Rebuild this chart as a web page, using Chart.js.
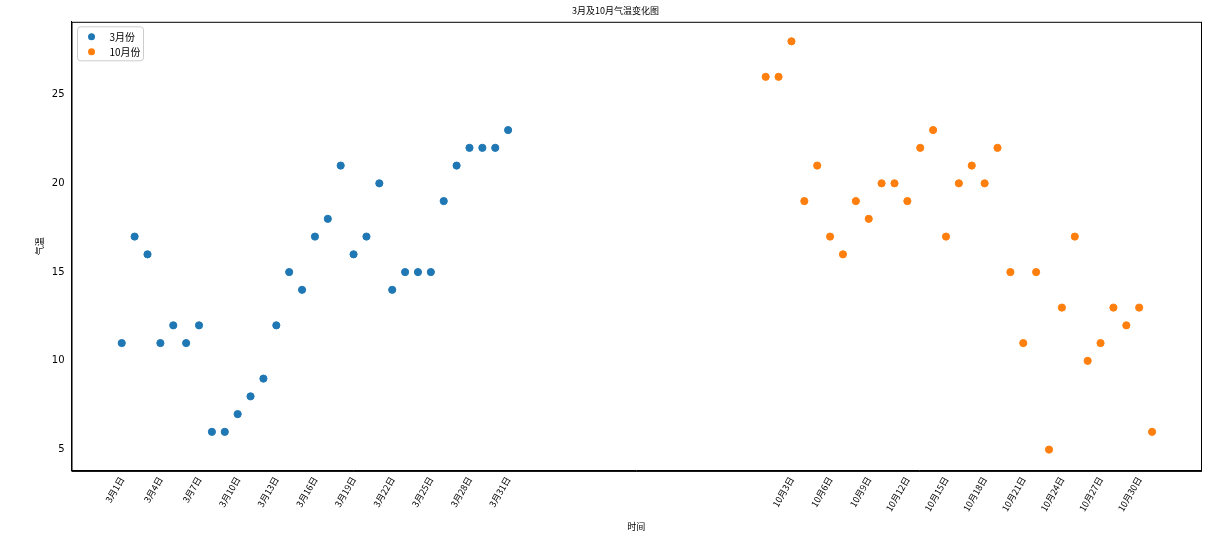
<!DOCTYPE html>
<html><head><meta charset="utf-8">
<script src="https://cdn.jsdelivr.net/npm/chart.js@4/dist/chart.umd.min.js"></script>
<style>body{margin:0;background:#fff}#wrap{width:1212px;height:534px}</style>
</head><body><div id="wrap"><canvas id="c"></canvas></div>
<script>
const marchX = Array.from({ length: 31 }, (_, i) => i + 1);
const octX = Array.from({ length: 31 }, (_, i) => i + 51);
const marchTemps = [11,17,16,11,12,11,12,6,6,7,8,9,12,15,14,17,18,21,16,17,20,14,15,15,15,19,21,22,22,22,23];
const octTemps = [26,26,28,19,21,17,16,19,18,20,20,19,22,23,17,20,21,20,22,15,11,15,5,13,17,10,11,13,12,13,6];
const allX = marchX.concat(octX);
const tickX = allX.filter((_, i) => i % 3 === 0);
const tickLabel = (v) => v <= 31 ? `3月${v}日` : `10月${v - 50}日`;
const font = "'Noto Sans CJK SC', 'DejaVu Sans', sans-serif";

// legend inside the plot area plus the full frame
const innerLegend = {
  id: "innerLegend",
  afterDraw(chart) {
    const { ctx, chartArea } = chart;
    ctx.save();
    ctx.strokeStyle = "#000";
    ctx.lineWidth = 1;
    ctx.strokeRect(chartArea.left + 0.5, chartArea.top + 0.5, chartArea.width, chartArea.height);
    const x = chartArea.left + 6, y = chartArea.top + 5;
    ctx.fillStyle = "#fff";
    ctx.strokeStyle = "#ccc";
    ctx.beginPath();
    ctx.roundRect(x, y, 66, 34, 3);
    ctx.fill(); ctx.stroke();
    ctx.font = "10px " + font;
    ctx.textBaseline = "middle";
    chart.data.datasets.forEach((ds, i) => {
      const cy = y + 10 + i * 15;
      ctx.fillStyle = ds.backgroundColor;
      ctx.beginPath(); ctx.arc(x + 14, cy, 3.5, 0, Math.PI * 2); ctx.fill();
      ctx.fillStyle = "#000";
      ctx.fillText(ds.label, x + 32, cy);
    });
    ctx.restore();
  },
};

new Chart(document.getElementById("c"), {
  type: "scatter",
  data: {
    datasets: [
      { label: "3月份", data: marchX.map((x, i) => ({ x, y: marchTemps[i] })), backgroundColor: "#1f77b4", borderColor: "#1f77b4", pointRadius: 3.6, pointHoverRadius: 3.6 },
      { label: "10月份", data: octX.map((x, i) => ({ x, y: octTemps[i] })), backgroundColor: "#ff7f0e", borderColor: "#ff7f0e", pointRadius: 3.6, pointHoverRadius: 3.6 },
    ],
  },
  options: {
    responsive: true,
    maintainAspectRatio: false,
    animation: false,
    layout: { padding: { left: 30, right: 11, top: 0, bottom: 2 } },
    plugins: {
      legend: { display: false },
      tooltip: { enabled: false },
      title: { display: true, text: "3月及10月气温变化图", color: "#000", font: { family: font, size: 9, weight: "normal" }, padding: { top: 5, bottom: 6 } },
    },
    scales: {
      x: {
        type: "linear", min: -2.9, max: 84.8,
        afterBuildTicks: (s) => { s.ticks = tickX.map((v) => ({ value: v })); },
        grid: { display: false, drawTicks: true, tickLength: 4 },
        border: { color: "#000" },
        ticks: { color: "#000", maxRotation: 60, minRotation: 60, autoSkip: false, padding: 0, font: { family: font, size: 9 }, callback: (v) => tickLabel(v) },
        title: { display: true, text: "时间", color: "#000", padding: { top: 8, bottom: 0 }, font: { family: font, size: 9 } },
      },
      y: {
        min: 3.8, max: 29.1,
        afterBuildTicks: (s) => { s.ticks = [5, 10, 15, 20, 25].map((v) => ({ value: v })); },
        grid: { display: false, drawTicks: true, tickLength: 4 },
        border: { color: "#000" },
        ticks: { color: "#000", font: { family: "'DejaVu Sans'", size: 10 } },
        title: { display: true, text: "气温", color: "#000", font: { family: font, size: 9 } },
      },
    },
  },
  plugins: [innerLegend],
});
</script></body></html>
